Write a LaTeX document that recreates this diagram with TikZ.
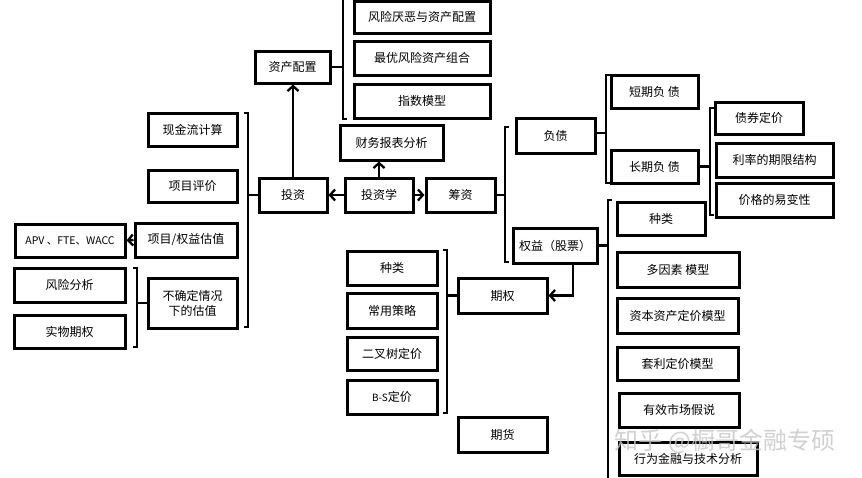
\documentclass[tikz,border=0pt]{standalone}
\usepackage{fontspec}
\setmainfont{Noto Sans CJK SC}
\usetikzlibrary{arrows.meta}
\begin{document}
\begin{tikzpicture}[x=1pt,y=-1pt,
  box/.style={draw, line width=3pt, inner sep=0pt, font=\fontsize{12}{15}\selectfont, align=center},
  conn/.style={line width=2.3pt},
  arr/.style={line width=2.3pt, -{Straight Barb[length=5pt,width=11pt]}},
  brk/.style={line width=2.3pt}]
\useasboundingbox[fill=white] (0,0) rectangle (862,477);

% --- centre ---
\node[box, minimum width=68pt, minimum height=34pt] (tzx) at (379,195) {投资学};
\node[box, minimum width=68pt, minimum height=34pt] (tz) at (293,195) {投资};
\node[box, minimum width=69pt, minimum height=34pt] (cz) at (460.5,195) {筹资};
\node[box, minimum width=103pt, minimum height=35pt] (cw) at (391.5,142.5) {财务报表分析};
\node[box, minimum width=75pt, minimum height=32pt] (zc) at (292.5,67) {资产配置};

\draw[arr] (tzx.west) -- (tz.east);
\draw[arr] (tzx.east) -- (cz.west);
\draw[arr] (tzx.north) -- (tzx.north |- cw.south);
\draw[arr] (tz.north) -- (tz.north |- zc.south);

% --- top ---
\node[box, minimum width=136pt, minimum height=32pt] (rp1) at (422,17) {风险厌恶与资产配置};
\node[box, minimum width=136pt, minimum height=34pt] (rp2) at (422,58) {最优风险资产组合};
\node[box, minimum width=136pt, minimum height=34pt] (rp3) at (422,101) {指数模型};
\draw[brk] (343,-2) -- (343,119) -- (347,119);
\coordinate (bT) at (343,67);
\draw[conn] (zc.east) -- (bT);

% --- left ---
\node[box, minimum width=89pt, minimum height=33pt] (xj) at (192.5,129.5) {现金流计算};
\node[box, minimum width=89pt, minimum height=32pt] (xp) at (192.5,186) {项目评价};
\node[box, minimum width=102pt, minimum height=34pt] (xg) at (186,240) {项目/权益估值};
\node[box, minimum width=110pt, minimum height=33pt, font=\fontsize{10.5}{12}\selectfont] (apv) at (70,240.5) {APV 、FTE、WACC};
\node[box, minimum width=89pt, minimum height=50pt] (bq) at (192.5,303) {不确定情况\\下的估值};
\node[box, minimum width=111pt, minimum height=34pt] (fx) at (69.5,285) {风险分析};
\node[box, minimum width=111pt, minimum height=33pt] (sw) at (69.5,331.5) {实物期权};
\draw[arr] (xg.west) -- (apv.east);
\draw[brk] (244,113) -- (248,113) -- (248,327) -- (244,327);
\coordinate (bL1) at (248,195);
\draw[conn] (bL1) -- (tz.west);
\draw[brk] (133,268) -- (137,268) -- (137,347) -- (133,347);
\coordinate (bL2) at (137,303);
\draw[conn] (bL2) -- (bq.west);

% --- right: financing ---
\node[box, minimum width=79pt, minimum height=35pt] (fz) at (555.5,135.5) {负债};
\node[box, minimum width=84pt, minimum height=35pt] (qy) at (555,245.5) {权益（股票）};
\draw[brk] (509,127) -- (505,127) -- (505,262) -- (509,262);
\coordinate (bR1) at (505,195);
\draw[conn] (cz.east) -- (bR1);

\node[box, minimum width=87pt, minimum height=33pt] (dq) at (654.5,91.5) {短期负 债};
\node[box, minimum width=87pt, minimum height=33pt] (cq) at (654.5,166.5) {长期负 债};
\draw[brk] (610,75) -- (606,75) -- (606,183) -- (610,183);
\coordinate (bR2) at (606,133);
\draw[conn] (fz.east |- bR2) -- (bR2);

\node[box, minimum width=88pt, minimum height=32pt] (zq) at (759,118) {债券定价};
\node[box, minimum width=117pt, minimum height=34pt] (ll) at (774.5,160) {利率的期限结构};
\node[box, minimum width=117pt, minimum height=34pt] (jg) at (774.5,200) {价格的易变性};
\draw[brk] (714,108) -- (710,108) -- (710,215) -- (714,215);
\coordinate (bR3) at (710,166.5);
\draw[conn] (cq.east) -- (bR3);

\node[box, minimum width=88pt, minimum height=33pt] (zl2) at (661,218.5) {种类};
\node[box, minimum width=122pt, minimum height=35pt] (dy) at (678,269.5) {多因素 模型};
\node[box, minimum width=121pt, minimum height=35pt] (zb) at (677.5,315.5) {资本资产定价模型};
\node[box, minimum width=121pt, minimum height=33pt] (tl) at (677.5,363.5) {套利定价模型};
\node[box, minimum width=120pt, minimum height=34pt] (yx) at (679,410) {有效市场假说};
\node[box, minimum width=138pt, minimum height=33pt] (xw) at (688,458.5) {行为金融与技术分析};
\draw[brk] (612,200) -- (608,200) -- (608,479);
\coordinate (bR4) at (608,245.5);
\draw[conn] (qy.east) -- (bR4);

% --- options ---
\node[box, minimum width=89pt, minimum height=35pt] (qq) at (502.5,295.5) {期权};
\draw[arr] ([xshift=18pt]qy.south) |- (qq.east);
\node[box, minimum width=90pt, minimum height=34pt] (zl1) at (392,268) {种类};
\node[box, minimum width=90pt, minimum height=35pt] (cy) at (392,310.5) {常用策略};
\node[box, minimum width=90pt, minimum height=33pt] (ec) at (392,353.5) {二叉树定价};
\node[box, minimum width=90pt, minimum height=34pt] (bs) at (392,397) {{\fontsize{10}{12}\selectfont B-S}定价};
\draw[brk] (443,250) -- (447,250) -- (447,413) -- (443,413);
\coordinate (bO) at (447,295.5);
\draw[conn] (bO) -- (qq.west);
\node[box, minimum width=89pt, minimum height=35pt] (qh) at (502.5,434.5) {期货};

% --- watermark ---
\node[text=gray!45, opacity=0.8, font=\fontsize{24}{24}\selectfont, inner sep=0pt] (wm) at (725,441) {知乎 @橱哥金融专硕};
\end{tikzpicture}
\end{document}
